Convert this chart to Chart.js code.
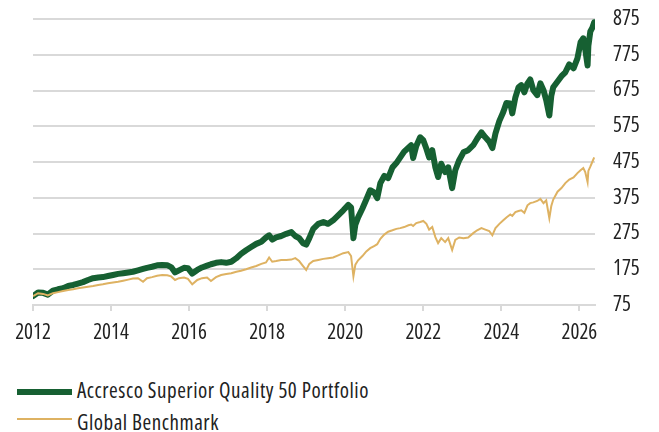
<!DOCTYPE html>
<html>
<head>
<meta charset="utf-8">
<script src="https://cdn.jsdelivr.net/npm/chart.js@4.4.1/dist/chart.umd.min.js"></script>
<style>
  html, body { margin: 0; padding: 0; background: #ffffff; }
  #wrap { position: relative; width: 659px; height: 432px; overflow: hidden; }
  #box { position: absolute; left: 0; top: 0; width: 659px; height: 350px; }
  .lg-line { position: absolute; left: 17px; width: 55px; }
  .lg-text { position: absolute; left: 77px; color: #222; white-space: nowrap; }
</style>
</head>
<body>
<div id="wrap">
  <div id="box"><canvas id="c"></canvas></div>
  <div id="legend"></div>
</div>
<script>
const seriesNames = ['Accresco Superior Quality 50 Portfolio', 'Global Benchmark'];

const dates = [
  2012.00,2012.13,2012.26,2012.38,2012.51,2012.64,2012.77,2012.90,2013.03,2013.15,
  2013.28,2013.41,2013.54,2013.67,2013.79,2013.92,2014.05,2014.18,2014.31,2014.44,
  2014.56,2014.69,2014.82,2014.92,2015.05,2015.18,2015.31,2015.44,2015.54,2015.64,
  2015.74,2015.87,2015.97,2016.08,2016.21,2016.33,2016.46,2016.56,2016.69,2016.82,
  2016.95,2017.08,2017.21,2017.33,2017.46,2017.59,2017.72,2017.85,2017.97,2018.05,
  2018.13,2018.23,2018.36,2018.49,2018.62,2018.72,2018.82,2018.92,2019.00,2019.08,
  2019.18,2019.31,2019.44,2019.56,2019.69,2019.82,2019.95,2020.08,2020.15,2020.21,
  2020.26,2020.33,2020.44,2020.54,2020.64,2020.74,2020.82,2020.90,2021.00,2021.10,
  2021.21,2021.31,2021.41,2021.51,2021.62,2021.69,2021.74,2021.82,2021.92,2022.00,
  2022.08,2022.15,2022.23,2022.31,2022.38,2022.46,2022.56,2022.64,2022.74,2022.82,
  2022.92,2023.03,2023.15,2023.28,2023.38,2023.49,2023.59,2023.69,2023.77,2023.85,
  2023.95,2024.05,2024.13,2024.23,2024.28,2024.36,2024.44,2024.51,2024.59,2024.67,
  2024.74,2024.82,2024.92,2025.00,2025.08,2025.15,2025.23,2025.28,2025.33,2025.44,
  2025.54,2025.64,2025.74,2025.85,2025.95,2026.03,2026.10,2026.15,2026.21,2026.23,
  2026.28,2026.33,2026.38
];

const portfolio = [
  100,110,109,104,115,119,122,128,131,135,
  139,145,150,152,153,156,159,162,164,166,
  168,172,176,179,182,186,187,186,181,166,
  172,179,178,163,173,180,185,189,193,195,
  193,196,206,218,228,237,246,252,264,270,
  258,264,268,274,279,268,262,248,244,262,
  288,302,307,302,312,326,340,355,348,262,
  300,320,345,370,396,390,374,416,436,430,
  460,472,488,504,515,522,486,520,544,536,
  512,488,508,460,433,470,447,460,402,452,
  480,502,508,522,540,558,544,532,514,555,
  590,615,640,639,611,656,684,690,670,695,
  706,676,662,695,676,648,605,660,684,700,
  715,726,748,737,765,810,821,790,745,800,
  840,850,866
];

const benchmark = [
  100,108,106,102,108,111,114,117,119,122,
  124,126,128,131,133,136,138,140,143,146,
  149,150,140,150,153,157,159,158,155,145,
  150,152,148,133,145,150,152,142,153,159,
  162,164,168,171,175,180,184,190,194,208,
  196,198,201,201,202,206,198,184,173,190,
  198,201,204,206,208,214,220,223,212,155,
  188,200,212,225,234,240,245,260,272,280,
  284,288,290,293,298,300,296,304,307,310,
  302,286,293,265,248,262,251,262,229,257,
  264,262,264,276,284,290,286,282,270,290,
  302,312,320,328,324,335,338,340,333,354,
  360,362,366,372,360,368,318,352,370,392,
  402,416,426,432,444,452,458,447,419,450,
  462,475,488
];

const yTicks = [75, 175, 275, 375, 475, 575, 675, 775, 875];
const xTickYears = [2012, 2014, 2016, 2018, 2020, 2022, 2024, 2026];

const GREEN = 'rgb(22,96,50)';
const GOLD = 'rgb(222,178,98)';
const GRID = '#d9d9d9';

// ---- choose a narrow, non-bold installed face (the reference uses a condensed sans)
const mctx = document.createElement('canvas').getContext('2d');
function tw(font, s) { mctx.font = font; return mctx.measureText(s).width; }
const SAMPLE = seriesNames[0];
const TARGET = 292;
const monoW = tw('21px monospace', SAMPLE), serifW = tw('21px serif', SAMPLE);
function installed(fam) {
  return tw('21px ' + fam + ', monospace', SAMPLE) !== monoW || tw('21px ' + fam + ', serif', SAMPLE) !== serifW;
}
const candidates = [];
function addPrefixed(fam, stretch) {
  const n = tw(stretch + ' 21px ' + fam, SAMPLE);
  const b = tw(stretch + ' bold 21px ' + fam, SAMPLE);
  const l = tw(stretch + ' 300 21px ' + fam, SAMPLE);
  if (Math.abs(n - b) > 0.5) candidates.push({ family: fam, prefix: stretch, w: n });
  else if (Math.abs(l - b) > 0.5) candidates.push({ family: fam, prefix: stretch + ' 300', w: l });
}
["'Liberation Sans Narrow'", "'Arial Narrow'", "'DejaVu Sans Condensed'", "'Roboto Condensed'", "'Open Sans Condensed'", "'Noto Sans Condensed'"].forEach(f => {
  if (installed(f)) addPrefixed(f, '');
});
["'DejaVu Sans'", "'Noto Sans'", "'Open Sans'", "'Liberation Sans'", "Roboto", "Lato", "Inter"].forEach(f => {
  if (!installed(f)) return;
  const normal = tw('21px ' + f, SAMPLE);
  ['condensed', 'semi-condensed'].forEach(st => {
    const c = tw(st + ' 21px ' + f, SAMPLE);
    if (c < normal - 1) addPrefixed(f, st);
  });
  candidates.push({ family: f, prefix: '', w: normal });
});
if (!candidates.length) candidates.push({ family: 'sans-serif', prefix: '', w: tw('21px sans-serif', SAMPLE) });
candidates.sort((a, b) => Math.abs(a.w - TARGET) - Math.abs(b.w - TARGET));
const pick = candidates[0];
let FSIZE = 21;
if (pick.w > TARGET * 1.08) FSIZE = Math.max(17, Math.round(21 * Math.sqrt(TARGET / pick.w) * 10) / 10);
const FONT_FAMILY = pick.family + ', sans-serif';
const FONT_OPT = { family: FONT_FAMILY, size: FSIZE };
if (pick.prefix) FONT_OPT.weight = pick.prefix; // goes before the size in the canvas font string
// small tracking so the legend text spans the same width as in the reference
const legendWidth = pick.w * FSIZE / 21;
const LETTER_SP = Math.max(0, Math.min(1, (TARGET - legendWidth) / SAMPLE.length));

const toPoints = (vals) => vals.map((v, i) => ({ x: dates[i], y: v }));

const chart = new Chart(document.getElementById('c'), {
  type: 'line',
  data: {
    datasets: [
      { label: seriesNames[0], data: toPoints(portfolio), borderColor: GREEN, backgroundColor: GREEN,
        borderWidth: 6, pointRadius: 0, tension: 0, order: 1, borderJoinStyle: 'round', borderCapStyle: 'round' },
      { label: seriesNames[1], data: toPoints(benchmark), borderColor: GOLD, backgroundColor: GOLD,
        borderWidth: 2, pointRadius: 0, tension: 0, order: 0 }
    ]
  },
  options: {
    responsive: true,
    maintainAspectRatio: false,
    animation: false,
    layout: { padding: { left: 33, top: 19, right: 0, bottom: 0 } },
    plugins: { legend: { display: false }, tooltip: { enabled: false } },
    scales: {
      x: {
        type: 'linear',
        min: 2012,
        max: 2026.4,
        afterBuildTicks: (s) => { s.ticks = xTickYears.map(v => ({ value: v })); },
        afterFit: (s) => { s.height = 45; s.paddingLeft = 0; s.paddingRight = 0; },
        ticks: {
          includeBounds: false,
          autoSkip: false,
          maxRotation: 0,
          padding: 9,
          color: '#222',
          font: FONT_OPT,
          callback: (v) => String(v)
        },
        grid: { display: true, drawOnChartArea: false, drawTicks: true, tickLength: 6, color: GRID, lineWidth: 2 },
        border: { display: true, color: GRID, width: 2 }
      },
      y: {
        position: 'right',
        min: 75,
        max: 875,
        afterBuildTicks: (s) => { s.ticks = yTicks.map(v => ({ value: v })); },
        afterFit: (s) => { s.width = 64; s.paddingTop = 0; s.paddingBottom = 0; },
        ticks: {
          padding: 18,
          color: '#222',
          font: FONT_OPT,
          callback: (v) => String(v)
        },
        grid: { color: GRID, lineWidth: 2, drawTicks: false },
        border: { display: false }
      }
    }
  }
});

// HTML legend built from the datasets
const legend = document.getElementById('legend');
const rows = [
  { lineTop: 389, thick: 6, textTop: 380 },
  { lineTop: 418, thick: 2, textTop: 412 }
];
chart.data.datasets.forEach((ds, i) => {
  const ln = document.createElement('div');
  ln.className = 'lg-line';
  ln.style.top = rows[i].lineTop + 'px';
  ln.style.height = rows[i].thick + 'px';
  ln.style.background = ds.borderColor;
  legend.appendChild(ln);
  const tx = document.createElement('div');
  tx.className = 'lg-text';
  tx.style.top = rows[i].textTop + 'px';
  tx.style.font = (pick.prefix ? pick.prefix + ' ' : '') + FSIZE + 'px/' + FSIZE + 'px ' + FONT_FAMILY;
  tx.style.letterSpacing = LETTER_SP.toFixed(2) + 'px';
  tx.textContent = ds.label;
  legend.appendChild(tx);
});
</script>
</body>
</html>
